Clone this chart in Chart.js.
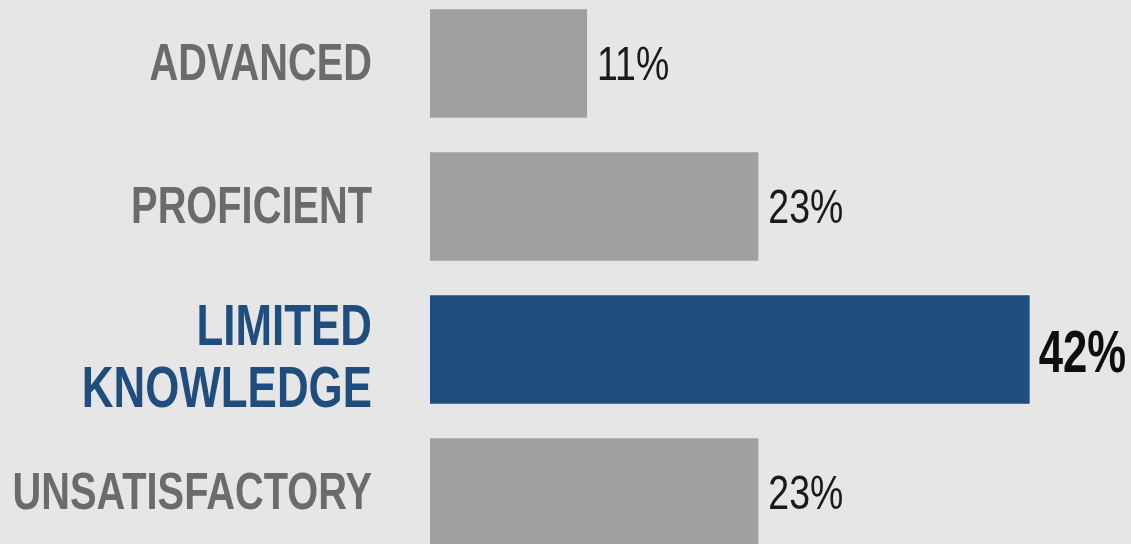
<!DOCTYPE html>
<html>
<head>
<meta charset="utf-8">
<script src="https://cdn.jsdelivr.net/npm/chart.js@4/dist/chart.umd.min.js"></script>
<style>
  html, body { margin: 0; padding: 0; background: #e6e6e6; overflow: hidden; }
  #wrap { position: absolute; left: 0; top: -8px; width: 1131px; height: 572px; }
</style>
</head>
<body>
<div id="wrap"><canvas id="chart"></canvas></div>
<script>
// --- data ---
const categories = [['ADVANCED'], ['PROFICIENT'], ['LIMITED', 'KNOWLEDGE'], ['UNSATISFACTORY']];
const values = [11, 23, 42, 23];
const highlightIndex = 2;

const GRAY_BAR = '#a0a0a1';
const BLUE = '#1f4e7e';
const LABEL_GRAY = '#6b6b6b';
const FONT = '"Liberation Sans", Arial, sans-serif';

// no condensed face installed, so squeeze the text horizontally
function drawText(ctx, text, x, y, sx) {
    ctx.save();
    ctx.translate(x, y);
    ctx.scale(sx, 1);
    ctx.fillText(text, 0, 0);
    ctx.restore();
}

const labelPlugin = {
    id: 'labelPlugin',
    afterDatasetsDraw(chart) {
        const ctx = chart.ctx;
        const yScale = chart.scales.y;
        const meta = chart.getDatasetMeta(0);

        // category labels on the left (highlighted one is a bit larger)
        ctx.textAlign = 'right';
        ctx.textBaseline = 'alphabetic';
        categories.forEach((lines, i) => {
            const hi = i === highlightIndex;
            const size = hi ? 57 : 52, capH = size * 0.72, lineH = 62;
            ctx.font = 'bold ' + size + 'px ' + FONT;
            ctx.fillStyle = hi ? BLUE : LABEL_GRAY;
            const yc = yScale.getPixelForValue(i);
            const n = lines.length;
            const shift = n > 1 ? 6 : -2;
            lines.forEach((line, j) => {
                const yb = yc + capH / 2 + (j - (n - 1) / 2) * lineH + shift;
                drawText(ctx, line, 372, yb, hi ? 0.77 : 0.765);
            });
        });

        // value labels after each bar
        ctx.textAlign = 'left';
        meta.data.forEach((bar, i) => {
            const hi = i === highlightIndex;
            const s = hi ? 59 : 48;
            ctx.font = (hi ? 'bold ' : '') + s + 'px ' + FONT;
            ctx.fillStyle = hi ? '#0d0d0d' : '#1a1a1a';
            drawText(ctx, values[i] + '%', bar.x + (hi ? 9 : 10), bar.y + s * 0.72 / 2 + (hi ? 1 : -1), hi ? 0.74 : 0.78);
        });
    }
};

new Chart(document.getElementById('chart'), {
    type: 'bar',
    data: {
        labels: categories.map(l => l.join(' ')),
        datasets: [{
            data: values,
            backgroundColor: values.map((v, i) => i === highlightIndex ? BLUE : GRAY_BAR),
            borderWidth: 0,
            categoryPercentage: 0.76,
            barPercentage: 1
        }]
    },
    options: {
        indexAxis: 'y',
        responsive: true,
        maintainAspectRatio: false,
        animation: false,
        layout: { padding: { left: 430, right: 0, top: 0, bottom: 0 } },
        plugins: { legend: { display: false }, tooltip: { enabled: false } },
        scales: {
            x: { display: false, min: 0, max: 49.1 },
            y: { display: false }
        }
    },
    plugins: [labelPlugin]
});
</script>
</body>
</html>
